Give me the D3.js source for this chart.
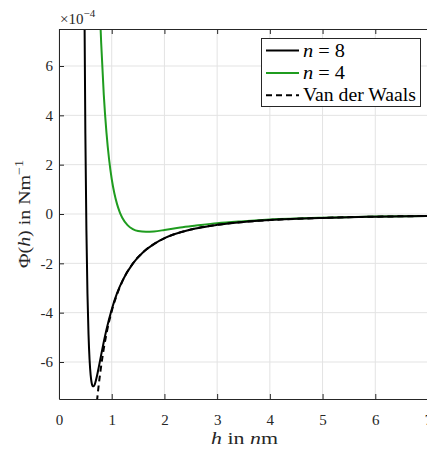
<!DOCTYPE html>
<html lang="en">
<head>
    <meta charset="UTF-8">
    <title>Phi(h)</title>
    <style>
        body { margin: 0; padding: 0; background: #fff; }
        svg text { font-family: "Liberation Serif", "Times New Roman", "DejaVu Serif", serif; }
    </style>
    <script src="https://d3js.org/d3.v7.min.js"></script>
</head>
<body>
    <svg id="chart" width="427" height="450"></svg>
    <script>
        // values in units of 1e-4 N/m, h in nm
        const hN8 = [0.48, 0.50, 0.52, 0.54, 0.56, 0.58, 0.60, 0.62, 0.64, 0.66, 0.68, 0.70, 0.72, 0.75, 0.80, 0.85, 0.90, 1.0, 1.1, 1.2, 1.4, 1.6, 1.8, 2.0, 2.5, 3.0, 3.5, 4.0, 5.0, 6.0, 7.0];
        const phiN8 = [9.27, 3.26, -0.67, -3.24, -4.88, -5.91, -6.52, -6.85, -6.98, -6.98, -6.90, -6.75, -6.57, -6.26, -5.71, -5.18, -4.69, -3.87, -3.22, -2.72, -2.01, -1.54, -1.22, -0.98, -0.63, -0.438, -0.322, -0.246, -0.158, -0.109, -0.080];

        const hN4 = [0.78, 0.80, 0.85, 0.90, 0.95, 1.0, 1.05, 1.1, 1.15, 1.2, 1.3, 1.4, 1.5, 1.65, 1.8, 2.0, 2.3, 2.6, 3.0, 3.5, 4.0, 5.0, 6.0, 7.0];
        const phiN4 = [8.01, 6.94, 4.82, 3.31, 2.22, 1.42, 0.84, 0.41, 0.09, -0.15, -0.45, -0.61, -0.69, -0.72, -0.705, -0.65, -0.55, -0.47, -0.37, -0.29, -0.225, -0.149, -0.105, -0.078];

        const hVdw = [0.72, 0.73, 0.75, 0.80, 0.85, 0.90, 1.0, 1.1, 1.2, 1.4, 1.6, 1.8, 2.0, 2.5, 3.0, 3.5, 4.0, 5.0, 6.0, 7.0];
        const phiVdw = [-7.60, -7.39, -7.00, -6.16, -5.45, -4.86, -3.94, -3.26, -2.74, -2.01, -1.54, -1.22, -0.985, -0.63, -0.438, -0.322, -0.246, -0.158, -0.109, -0.080];

        const xTicks = [0, 1, 2, 3, 4, 5, 6, 7];
        const yTicks = [-6, -4, -2, 0, 2, 4, 6];
        const legendLabels = ["n = 8", "n = 4", "Van der Waals"];

        const serif = "'Liberation Serif', 'Times New Roman', 'DejaVu Serif', serif";
        const margin = { left: 59, top: 29, right: 428, bottom: 399 };
        const svg = d3.select("#chart");

        const x = d3.scaleLinear().domain([0, 7]).range([margin.left, margin.right]);
        const y = d3.scaleLinear().domain([-7.5, 7.5]).range([margin.bottom, margin.top]);

        svg.append("defs").append("clipPath").attr("id", "clip")
            .append("rect")
            .attr("x", margin.left).attr("y", margin.top)
            .attr("width", margin.right - margin.left)
            .attr("height", margin.bottom - margin.top);

        // grid
        const grid = svg.append("g").attr("stroke", "#e3e3e3").attr("stroke-width", 1);
        grid.selectAll(".gx").data(xTicks).enter().append("line")
            .attr("x1", d => x(d)).attr("x2", d => x(d))
            .attr("y1", margin.top).attr("y2", margin.bottom);
        grid.selectAll(".gy").data(yTicks).enter().append("line")
            .attr("x1", margin.left).attr("x2", margin.right)
            .attr("y1", d => y(d)).attr("y2", d => y(d));

        // curves
        const line = d3.line()
            .x(d => x(d[0]))
            .y(d => y(d[1]))
            .curve(d3.curveMonotoneX);

        const plot = svg.append("g").attr("clip-path", "url(#clip)");
        plot.append("path")
            .datum(d3.zip(hN4, phiN4))
            .attr("d", line)
            .attr("fill", "none").attr("stroke", "#1f9c1f").attr("stroke-width", 2);
        plot.append("path")
            .datum(d3.zip(hN8, phiN8))
            .attr("d", line)
            .attr("fill", "none").attr("stroke", "#000").attr("stroke-width", 2);
        plot.append("path")
            .datum(d3.zip(hVdw, phiVdw))
            .attr("d", line)
            .attr("fill", "none").attr("stroke", "#000").attr("stroke-width", 2)
            .attr("stroke-dasharray", "6,4");

        // axes
        const axisColor = "#262626";
        const fmt = d => d < 0 ? "-" + Math.abs(d) : String(d);
        const xAxis = svg.append("g")
            .attr("transform", `translate(0,${margin.bottom})`)
            .call(d3.axisBottom(x).tickValues(xTicks).tickSizeInner(-5).tickSizeOuter(0).tickPadding(15).tickFormat(fmt));
        const xTop = svg.append("g")
            .attr("transform", `translate(0,${margin.top})`)
            .call(d3.axisTop(x).tickValues(xTicks).tickSizeInner(-5).tickSizeOuter(0).tickFormat(""));
        const yAxis = svg.append("g")
            .attr("transform", `translate(${margin.left},0)`)
            .call(d3.axisLeft(y).tickValues(yTicks).tickSizeInner(-5).tickSizeOuter(0).tickPadding(6).tickFormat(fmt));
        [xAxis, xTop, yAxis].forEach(a => {
            a.attr("font-family", serif).attr("font-size", 15);
            a.select(".domain").attr("stroke", axisColor).attr("stroke-width", 1);
            a.selectAll(".tick line").attr("stroke", axisColor);
            a.selectAll(".tick text").attr("fill", axisColor);
        });

        // exponent
        const expo = svg.append("text")
            .attr("x", 60).attr("y", 24)
            .attr("fill", axisColor).attr("font-size", 15);
        expo.append("tspan").text("×10");
        expo.append("tspan").attr("dy", -7).attr("font-size", 11).text("−4");

        // axis labels
        const xl = svg.append("text")
            .attr("x", 211).attr("y", 444)
            .attr("textLength", 67).attr("lengthAdjust", "spacingAndGlyphs")
            .attr("fill", axisColor).attr("font-size", 17);
        xl.append("tspan").attr("font-style", "italic").text("h");
        xl.append("tspan").text(" in ");
        xl.append("tspan").attr("font-style", "italic").text("n");
        xl.append("tspan").text("m");

        const yl = svg.append("text")
            .attr("transform", "translate(30,268) rotate(-90)")
            .attr("textLength", 108).attr("lengthAdjust", "spacingAndGlyphs")
            .attr("fill", axisColor).attr("font-size", 17);
        yl.append("tspan").text("Φ(");
        yl.append("tspan").attr("font-style", "italic").text("h");
        yl.append("tspan").text(") in Nm");
        yl.append("tspan").attr("dy", -7).attr("font-size", 12).text("−1");

        // legend
        const lg = svg.append("g");
        lg.append("rect")
            .attr("x", 261.5).attr("y", 38.5).attr("width", 159).attr("height", 68)
            .attr("fill", "#fff").attr("stroke", axisColor).attr("stroke-width", 1);
        const styles = [
            { c: "#000", dash: null },
            { c: "#1f9c1f", dash: null },
            { c: "#000", dash: "6,4" }
        ];
        const widths = [42, 42, 113];
        legendLabels.forEach((lab, i) => {
            const yy = 50.5 + i * 22.4;
            lg.append("line")
                .attr("x1", 266).attr("x2", 299).attr("y1", yy).attr("y2", yy)
                .attr("stroke", styles[i].c).attr("stroke-width", 2)
                .attr("stroke-dasharray", styles[i].dash);
            const t = lg.append("text")
                .attr("x", 303).attr("y", yy + 6)
                .attr("textLength", widths[i]).attr("lengthAdjust", "spacingAndGlyphs")
                .attr("fill", "#000").attr("font-size", 18);
            if (i < 2) {
                const parts = lab.split(" = ");
                t.append("tspan").attr("font-style", "italic").text(parts[0]);
                t.append("tspan").text(" = " + parts[1]);
            } else {
                t.text(lab);
            }
        });
    </script>
</body>
</html>
